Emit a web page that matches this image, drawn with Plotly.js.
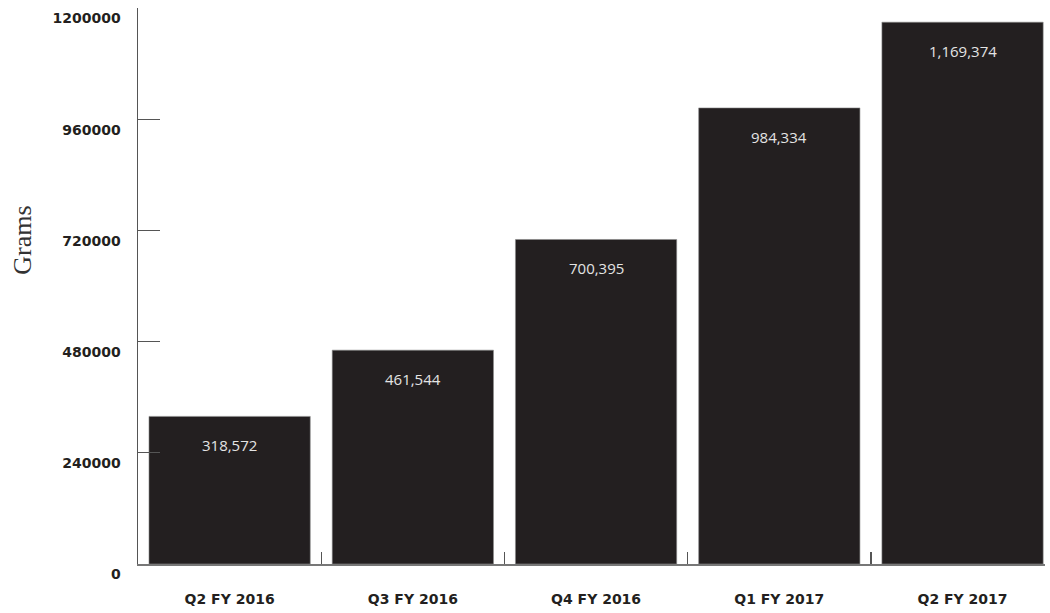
<!DOCTYPE html>
<html>
<head>
<meta charset="utf-8">
<script src="https://cdn.plot.ly/plotly-3.0.1.min.js"></script>
<style>html,body{margin:0;padding:0;background:#fff;}</style>
</head>
<body>
<div id="chart" style="width:1050px;height:613px;"></div>
<script>
var categories = ["Q2 FY 2016", "Q3 FY 2016", "Q4 FY 2016", "Q1 FY 2017", "Q2 FY 2017"];
var grams = [318572, 461544, 700395, 984334, 1169374];
var yTicks = [0, 240000, 480000, 720000, 960000, 1200000];
var yTickText = ["0", "240000", "480000", "720000", "960000", "1200000"];

var labelFont = {family: "DejaVu Sans, sans-serif", size: 14, color: "#231f20", weight: 700};

var trace = {
  type: "bar",
  x: categories,
  y: grams,
  marker: {color: "#231f20", line: {color: "#8a8a8a", width: 0.6}},
  hoverinfo: "none"
};

var annotations = categories.map(function (c, i) {
  return {
    x: c, y: grams[i], xref: "x", yref: "y",
    text: grams[i].toLocaleString("en-US"),
    showarrow: false, yanchor: "middle", yshift: -29,
    font: {family: "Open Sans, sans-serif", size: 15, color: "#e4e4e4"}
  };
});

annotations.push({
  text: "Grams",
  xref: "paper", yref: "paper",
  x: -0.127, y: 0.583,
  xanchor: "center", yanchor: "middle",
  textangle: -90, showarrow: false,
  font: {family: "Liberation Serif, Times New Roman, serif", size: 26, color: "#333"}
});

var layout = {
  width: 1050, height: 613,
  margin: {l: 138, r: 5, t: 8, b: 49},
  paper_bgcolor: "#fff", plot_bgcolor: "#fff",
  showlegend: false,
  bargap: 0.12,
  xaxis: {
    type: "category",
    range: [-0.5, 4.45],
    tickson: "boundaries",
    ticks: "inside", ticklen: 12, tickwidth: 1.2, tickcolor: "#555",
    showline: true, linecolor: "#777", linewidth: 1.5,
    showgrid: false, zeroline: false,
    tickfont: labelFont,
    ticklabelstandoff: 22,
    fixedrange: true
  },
  yaxis: {
    range: [0, 1200000],
    tickmode: "array", tickvals: yTicks, ticktext: yTickText,
    ticks: "inside", ticklen: 22, tickwidth: 1.2, tickcolor: "#555",
    ticklabelposition: "outside bottom",
    showline: true, linecolor: "#555", linewidth: 1.5,
    showgrid: false, zeroline: false,
    tickfont: labelFont,
    ticklabelstandoff: 13,
    fixedrange: true
  },
  annotations: annotations
};

Plotly.newPlot("chart", [trace], layout, {displayModeBar: false, staticPlot: true});
</script>
</body>
</html>
